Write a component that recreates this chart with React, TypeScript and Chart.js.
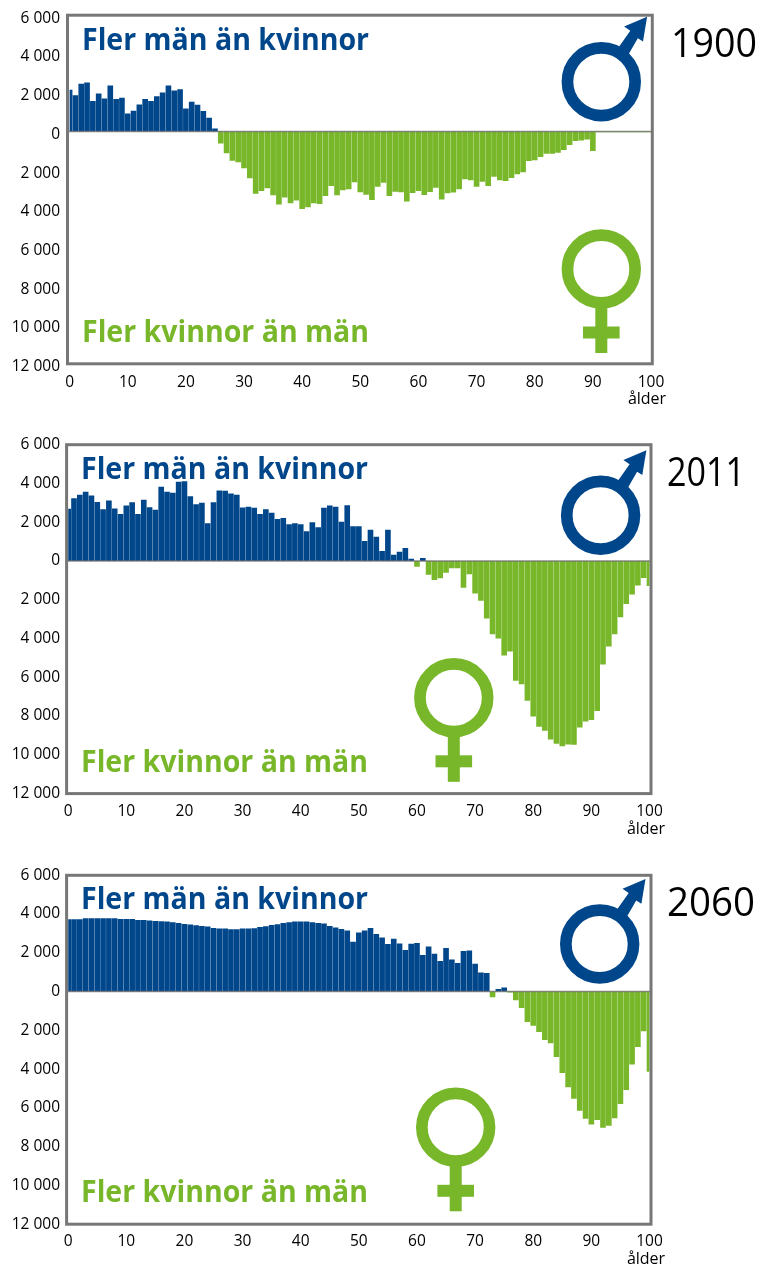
import React, { useEffect, useRef } from "react";
import { Chart, registerables } from "chart.js";

Chart.register(...registerables);

const ages = Array.from({ length: 101 }, (_, i) => String(i));

const values1900 = [
  2148, 1873, 2457, 2526, 1564, 1959, 1701, 2371, 1667, 1735,
  928, 1065, 1392, 1667, 1564, 1821, 2010, 2371, 2113, 2182,
  1186, 1529, 1375, 1048, 704, 155, -619, -1134, -1512, -1598,
  -1907, -2423, -3213, -3076, -2938, -3299, -3780, -3419, -3711, -3574,
  -4003, -3918, -3711, -3746, -3333, -2818, -3299, -3041, -2990, -2629,
  -3144, -3265, -3540, -2852, -2646, -3333, -3110, -3144, -3625, -3178,
  -3076, -3282, -3127, -2904, -3522, -3196, -3161, -2990, -2474, -2526,
  -2852, -2595, -2818, -2337, -2526, -2560, -2405, -2216, -2113, -1529,
  -1495, -1323, -1151, -1151, -1100, -962, -704, -498, -464, -412,
  -1014, -50, -50, -40, -40, -40, -40, -40, -40, -40, -40,
];

const values2011 = [
  2690, 3240, 3414, 3570, 3380, 3050, 2672, 3120, 2707, 2431,
  2862, 3034, 2431, 3155, 2776, 2638, 3828, 3570, 3517, 4086,
  4120, 3345, 2931, 3000, 1948, 3034, 3638, 3620, 3483, 3414,
  2759, 2793, 2741, 2431, 2672, 2483, 2172, 2224, 1897, 1948,
  1897, 1534, 2000, 1741, 2741, 2862, 2793, 2027, 2870, 1787,
  1787, 1030, 1615, 1254, 515, 1615, 326, 481, 670, 120,
  -292, 155, -705, -980, -890, -600, -380, -380, -1380, -690,
  -1672, -2052, -2966, -3776, -4000, -4880, -4672, -6172, -6362, -7207,
  -8017, -8552, -8759, -9207, -9431, -9552, -9466, -9483, -8586, -8276,
  -8207, -7741, -5345, -4414, -3776, -2897, -2224, -1724, -1259, -880,
  -1293,
];

const values2060 = [
  3732, 3732, 3732, 3784, 3784, 3784, 3784, 3784, 3784, 3750,
  3750, 3750, 3698, 3698, 3664, 3646, 3629, 3612, 3578, 3543,
  3492, 3457, 3423, 3388, 3354, 3285, 3251, 3251, 3216, 3216,
  3251, 3251, 3268, 3337, 3371, 3440, 3474, 3543, 3578, 3612,
  3612, 3612, 3578, 3543, 3509, 3380, 3311, 3225, 3156, 2571,
  3053, 3156, 3276, 2967, 2795, 2451, 2726, 2485, 2141, 2468,
  2502, 1883, 2330, 1952, 1574, 2244, 1660, 1470, 2090, 2124,
  1436, 989, 955, -290, 129, 215, -50, -440, -850, -1570,
  -1760, -2090, -2500, -2660, -3380, -4200, -4930, -5530, -6150, -6560,
  -6850, -6630, -7030, -6920, -6530, -5800, -5080, -3760, -2860, -2040,
  -4140,
];

const menLabel = "Fler män än kvinnor";
const womenLabel = "Fler kvinnor än män";
const ageLabel = "ålder";

const BLUE = "#00468b";
const GREEN = "#78b72a";
const FRAME = "#777777";
const FONT = '"Open Sans", sans-serif';

type Panel = {
  year: string;
  values: number[];
  canvasTop: number;
  canvasHeight: number;
  plot: { l: number; r: number; t: number; b: number };
  frame: { l: number; r: number };
  men: { x: number; y: number };
  women: { x: number; y: number };
  yearPos: { x: number; y: number; w: number };
  male: { x: number; y: number };
  female: { x: number; y: number };
  age: { x: number; y: number };
  tickPad: number;
  xPad: number;
  labelShift: number;
};

const panels: Panel[] = [
  {
    year: "1900", values: values1900, canvasTop: 0, canvasHeight: 425,
    plot: { l: 69.6, r: 651, t: 15.2, b: 363.8 }, frame: { l: 67.5, r: 652.3 },
    men: { x: 82, y: 50 }, women: { x: 82, y: 342.3 },
    yearPos: { x: 671, y: 56.5, w: 86 },
    male: { x: 601.3, y: 81.7 }, female: { x: 601.3, y: 269 },
    age: { x: 647, y: 403.5 }, tickPad: 1.6, xPad: 1, labelShift: 3,
  },
  {
    year: "2011", values: values2011, canvasTop: 425, canvasHeight: 425,
    plot: { l: 68.2, r: 649.5, t: 19.7, b: 368.6 }, frame: { l: 66.6, r: 651 },
    men: { x: 81, y: 54.3 }, women: { x: 81, y: 347 },
    yearPos: { x: 667, y: 61, w: 78 },
    male: { x: 600.6, y: 90.3 }, female: { x: 453.8, y: 272.8 },
    age: { x: 646, y: 408.5 }, tickPad: 0.2, xPad: 1, labelShift: 0,
  },
  {
    year: "2060", values: values2060, canvasTop: 850, canvasHeight: 418,
    plot: { l: 68.2, r: 649.5, t: 25.3, b: 374.2 }, frame: { l: 66.6, r: 651 },
    men: { x: 81, y: 59.3 }, women: { x: 81, y: 352 },
    yearPos: { x: 667, y: 66, w: 88 },
    male: { x: 599.7, y: 94 }, female: { x: 455.7, y: 277.3 },
    age: { x: 646, y: 414 }, tickPad: 0.2, xPad: 0, labelShift: 0,
  },
];

function drawMale(ctx: CanvasRenderingContext2D, cx: number, cy: number) {
  ctx.save();
  ctx.translate(cx, cy);
  ctx.strokeStyle = BLUE;
  ctx.fillStyle = BLUE;
  ctx.lineWidth = 11.7;
  ctx.beginPath();
  ctx.arc(0, 0, 33.85, 0, Math.PI * 2);
  ctx.stroke();
  const outline = [
    [45.8, -65], [41.7, -40.2], [36.5, -43.5], [27, -27], [17, -34], [29, -51], [22.8, -55.2],
  ];
  ctx.beginPath();
  outline.forEach(([x, y], i) => (i ? ctx.lineTo(x, y) : ctx.moveTo(x, y)));
  ctx.closePath();
  ctx.fill();
  ctx.restore();
}

function drawFemale(ctx: CanvasRenderingContext2D, cx: number, cy: number) {
  ctx.save();
  ctx.translate(cx, cy);
  ctx.strokeStyle = GREEN;
  ctx.fillStyle = GREEN;
  ctx.lineWidth = 11.7;
  ctx.beginPath();
  ctx.arc(0, 0, 33.85, 0, Math.PI * 2);
  ctx.stroke();
  ctx.fillRect(-6, 36, 12, 48);
  ctx.fillRect(-18.3, 57.5, 36.6, 12);
  ctx.restore();
}

function decorations(p: Panel) {
  return {
    id: "decorations",
    beforeDraw(chart: any) {
      const yScale = chart.scales.y;
      if (!yScale.__shifted) {
        const original = yScale.drawLabels.bind(yScale);
        yScale.drawLabels = (area: any) => {
          chart.ctx.save();
          chart.ctx.translate(0, p.labelShift);
          original(area);
          chart.ctx.restore();
        };
        yScale.__shifted = true;
      }
    },
    afterDatasetsDraw(chart: any) {
      const ctx: CanvasRenderingContext2D = chart.ctx;
      const zero = chart.scales.y.getPixelForValue(0);
      ctx.save();
      ctx.strokeStyle = "rgba(110,110,110,0.8)";
      ctx.lineWidth = 1.5;
      ctx.beginPath();
      ctx.moveTo(p.frame.l, zero);
      ctx.lineTo(p.frame.r, zero);
      ctx.stroke();

      ctx.strokeStyle = FRAME;
      ctx.lineWidth = 3;
      ctx.strokeRect(p.frame.l, p.plot.t, p.frame.r - p.frame.l, p.plot.b - p.plot.t);

      ctx.textBaseline = "alphabetic";
      ctx.textAlign = "left";
      ctx.font = `bold 31px ${FONT}`;
      ctx.fillStyle = BLUE;
      ctx.fillText(menLabel, p.men.x, p.men.y, 287);
      ctx.fillStyle = GREEN;
      ctx.fillText(womenLabel, p.women.x, p.women.y, 287);

      ctx.fillStyle = "#000";
      ctx.font = `40px ${FONT}`;
      ctx.fillText(p.year, p.yearPos.x, p.yearPos.y, p.yearPos.w);

      ctx.font = `16px ${FONT}`;
      ctx.textAlign = "center";
      ctx.fillText(ageLabel, p.age.x, p.age.y);
      ctx.restore();

      drawMale(ctx, p.male.x, p.male.y);
      drawFemale(ctx, p.female.x, p.female.y);
    },
  };
}

function PanelChart({ panel }: { panel: Panel }) {
  const ref = useRef<HTMLCanvasElement | null>(null);
  useEffect(() => {
    const { plot, canvasHeight } = panel;
    const chart = new Chart(ref.current as HTMLCanvasElement, {
      type: "bar",
      data: {
        labels: ages,
        datasets: [
          {
            label: panel.year,
            data: panel.values,
            backgroundColor: panel.values.map((v) => (v >= 0 ? BLUE : GREEN)),
            borderWidth: 0,
            barPercentage: 0.97,
            categoryPercentage: 1,
          },
        ],
      },
      options: {
        responsive: false,
        animation: false,
        layout: { padding: { top: plot.t, right: 765 - plot.r, left: 0, bottom: 0 } },
        plugins: { legend: { display: false }, tooltip: { enabled: false } },
        scales: {
          x: {
            offset: false,
            grid: { display: false, offset: false },
            border: { display: false },
            afterFit: (s: any) => { s.height = canvasHeight - plot.b; },
            ticks: {
              autoSkip: false,
              maxRotation: 0,
              minRotation: 0,
              padding: panel.xPad,
              color: "#000",
              font: { family: FONT, size: 15.5 },
              callback: (_v: any, i: number) => (i % 10 === 0 ? ages[i] : ""),
            },
          },
          y: {
            min: -12000,
            max: 6000,
            grid: { display: false },
            border: { display: false },
            afterFit: (s: any) => { s.width = plot.l; },
            ticks: {
              stepSize: 2000,
              padding: panel.tickPad,
              color: "#000",
              font: { family: FONT, size: 15.5 },
              callback: (v: any) => String(Math.abs(Number(v))).replace(/(\d)(\d{3})$/, "$1 $2"),
            },
          },
        },
      },
      plugins: [decorations(panel)],
    } as any);
    return () => chart.destroy();
  }, [panel]);
  return (
    <canvas
      ref={ref}
      width={765}
      height={panel.canvasHeight}
      style={{ position: "absolute", left: 0, top: panel.canvasTop, width: 765, height: panel.canvasHeight, display: "block" }}
    />
  );
}

export default function App() {
  return (
    <div style={{ position: "absolute", left: 0, top: 0, width: 765, height: 1268, background: "#fff", overflow: "hidden" }}>
      {panels.map((p) => (
        <PanelChart key={p.year} panel={p} />
      ))}
    </div>
  );
}
